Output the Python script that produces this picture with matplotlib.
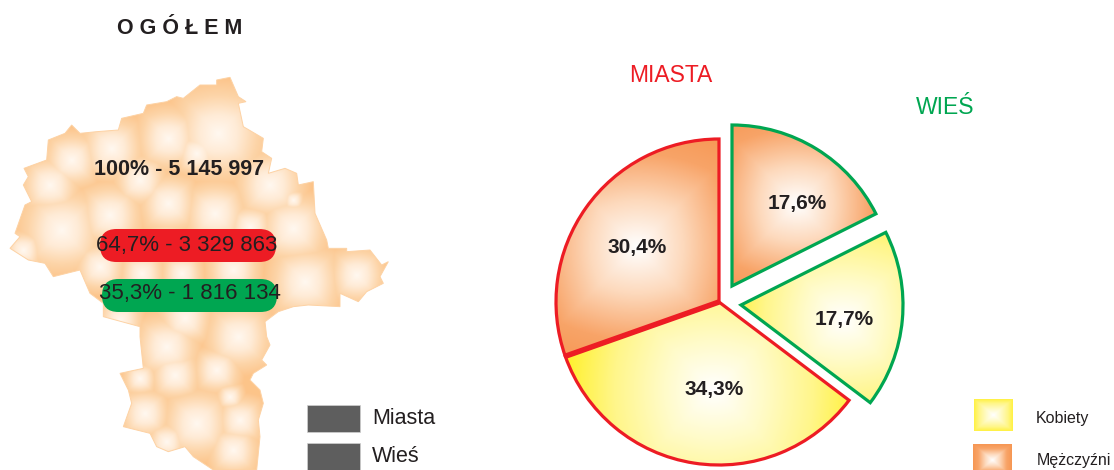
import numpy as np
import matplotlib
matplotlib.use("Agg")
import matplotlib.pyplot as plt
from matplotlib.colors import LinearSegmentedColormap
from matplotlib.patches import Wedge, Polygon, FancyBboxPatch, Rectangle

# ---------- data ----------
title = "O G Ó Ł E M"
map_labels = ["100% - 5 145 997", "64,7% - 3 329 863", "35,3% - 1 816 134"]
pie_values = [17.6, 17.7, 34.3, 30.4]
pie_labels = ["17,6%", "17,7%", "34,3%", "30,4%"]
pie_groups = ["WIEŚ", "WIEŚ", "MIASTA", "MIASTA"]
pie_kinds = ["m", "k", "k", "m"]
legend_left = ["Miasta", "Wieś"]
legend_right = ["Kobiety", "Mężczyźni"]

# ---------- layout / style ----------
W, H = 1114, 470
FONT = ["Liberation Sans", "DejaVu Sans"]
RED, GREEN, DARK = "#ED1C24", "#00A651", "#231F20"
plt.rcParams["font.family"] = FONT
px = 72 / 100

fig = plt.figure(figsize=(W / 100, H / 100), dpi=100)
ax = fig.add_axes([0, 0, 1, 1])
ax.set_xlim(0, W); ax.set_ylim(0, H); ax.axis("off")
Y = lambda y: H - y

orange_map = LinearSegmentedColormap.from_list("om", ["#FFF8F0", "#FFEBD6", "#FDD5A9", "#FCC48A"])
orange = LinearSegmentedColormap.from_list("o", ["#FFFFFF", "#FDD9BC", "#F8A468", "#F6924C"])
yellow = LinearSegmentedColormap.from_list("y", ["#FFFFFF", "#FFFBC8", "#FFF68A", "#FFF02A"])
cmaps = {"m": orange, "k": yellow}

# ---------- map (shape, zoomed coordinates) ----------
outline = [(650,30),(690,22),(715,80),(738,95),(715,100),(730,170),(790,205),(785,245),(815,265),(805,310),
 (855,295),(890,310),(895,345),(940,335),(945,430),(980,510),(985,535),(1040,535),(1040,545),(1110,540),
 (1145,585),(1165,575),(1140,620),(1150,640),(1100,665),(1075,695),(1020,670),(1020,710),(925,705),(880,710),
 (835,725),(795,755),(800,800),(810,825),(785,870),(800,885),(760,910),(750,930),(780,960),(790,1000),
 (775,1050),(780,1100),(770,1200),(640,1200),(580,1160),(555,1130),(505,1145),(470,1130),(450,1090),(370,1070),
 (395,1000),(385,960),(360,910),(430,895),(420,800),(420,770),(310,740),(310,700),(270,670),(240,600),
 (160,620),(135,580),(85,570),(30,535),(60,500),(45,490),(75,405),(95,395),(70,345),(85,320),
 (72,295),(140,270),(145,210),(195,190),(215,165),(240,190),(290,185),(355,180),(365,145),(430,130),
 (440,105),(500,95),(530,80),(550,85),(600,45),(650,45)]
region_centres = [(655,190,170),(505,205,115),(335,235,115),(215,270,100),(150,345,105),(185,480,150),(330,435,115),
 (505,400,105),(645,430,115),(810,345,125),(880,475,125),(915,635,130),(1070,615,100),(590,250,80),(420,330,95),
 (300,590,90),(425,610,80),(545,610,75),(700,600,95),(360,750,80),(555,745,95),(715,800,120),(500,830,115),
 (525,915,90),(650,900,85),(435,1030,90),(590,1060,125),(720,1050,85),(500,1115,70),(700,1140,90),(70,540,70),
 (750,470,80),(500,520,75),(420,925,60),(690,980,50),(880,390,40)]
poly_px = [(x / 3, 70 + y / 3) for x, y in outline]
gx, gy = np.meshgrid(np.arange(0, 400, 0.5), np.arange(70, 470, 0.5))
t = np.full(gx.shape, 9.0)
for cx, cy, r in region_centres:
    dx, dy = gx - cx / 3, gy - (70 + cy / 3)
    dist = np.hypot(dx, dy) * 0.6 + np.maximum(abs(dx), abs(dy)) * 0.4
    t = np.minimum(t, dist / (r / 3))
im = ax.imshow(np.clip(t, 0, 1)[::-1], cmap=orange_map, vmin=0, vmax=1, extent=(0, 400, Y(470), Y(70)),
               origin="lower", aspect="auto", zorder=1)
clip = Polygon([(x, Y(y)) for x, y in poly_px], closed=True, transform=ax.transData, fc="none", ec="none")
ax.add_patch(clip)
im.set_clip_path(clip)
ax.add_patch(Polygon([(x, Y(y)) for x, y in poly_px], closed=True, fc="none", ec="#FDD2A4", lw=0.7, zorder=2))

# ---------- title and pills ----------
ax.text(180, Y(28), title, fontsize=15.5, fontweight="bold", color=DARK, ha="center", va="center")
for (x0, x1, yc, col) in [(100, 276, 245.5, RED), (102, 277, 295.5, GREEN)]:
    h = 33
    ax.add_patch(FancyBboxPatch((x0 + h / 2, Y(yc + h / 2) + h / 2), x1 - x0 - h, 0,
                                boxstyle=f"round,pad={h/2},rounding_size={h/2}", fc=col, ec="none", zorder=3))
ax.text(179.5, Y(169.5), map_labels[0], fontsize=15.5, fontweight="bold", color=DARK, ha="center", va="center", zorder=5)
ax.text(186.5, Y(245), map_labels[1], fontsize=16, color=DARK, ha="center", va="center", zorder=5)
ax.text(190, Y(294), map_labels[2], fontsize=16, color=DARK, ha="center", va="center", zorder=5)

# ---------- pie ----------
def radial_fill(cmap, wedge, hot, reach):
    x0, x1 = hot[0] - 200, hot[0] + 200
    y0, y1 = hot[1] - 200, hot[1] + 200
    xx, yy = np.meshgrid(np.linspace(x0, x1, 800), np.linspace(y0, y1, 800))
    dx, dy = xx - hot[0], yy - hot[1]
    v = (np.hypot(dx, dy) * 0.55 + np.maximum(abs(dx), abs(dy)) * 0.45) / reach
    img = ax.imshow(np.clip(v, 0, 1), cmap=cmap, vmin=0, vmax=1, extent=(x0, x1, Y(y1), Y(y0)),
                    origin="upper", aspect="auto", zorder=3)
    img.set_clip_path(wedge)

centres = [(732, 286), (741, 305), (719, 302), (719, 302)]
radius = [161, 162, 163, 163]
label_xy = [(797, 204), (844, 320), (714, 390), (637, 247)]
reach = [112, 120, 150, 140]
edge = {"WIEŚ": GREEN, "MIASTA": RED}
start = 90.0
bounds = []
for v, lab, g, k, c, r, xy, re in zip(pie_values, pie_labels, pie_groups, pie_kinds, centres, radius, label_xy, reach):
    end = start - v * 3.6
    clipw = Wedge((c[0], Y(c[1])), r, end, start, fc="none", ec="none", transform=ax.transData)
    ax.add_patch(clipw)
    radial_fill(cmaps[k], clipw, xy, re)
    ax.add_patch(Wedge((c[0], Y(c[1])), r, end, start, fc="none", ec=edge[g], lw=3.2 * px, joinstyle="miter", zorder=4))
    ax.text(xy[0], Y(xy[1]), lab, fontsize=15, fontweight="bold", color=DARK, ha="center", va="center", zorder=5)
    bounds.append(end)
    start = end
# heavier divider between the two city slices
a = np.radians(bounds[2])
ax.plot([719, 719 + 163 * np.cos(a)], [Y(302), Y(302) + 163 * np.sin(a)], color=RED, lw=5.5 * px, zorder=4.5,
        solid_capstyle="butt")
ax.text(671, Y(76), "MIASTA", fontsize=16.5, color=RED, ha="center", va="center")
ax.text(945, Y(108), "WIEŚ", fontsize=16.5, color=GREEN, ha="center", va="center")

# ---------- legends ----------
for (y0, lab, ty) in [(405, legend_left[0], 419), (443, legend_left[1], 456)]:
    ax.add_patch(Rectangle((307, Y(y0 + 27)), 53, 27, fc="#5E5E5E", ec="#D0D0D0", lw=0.5))
    ax.text(372, Y(ty), lab, fontsize=15.5, color=DARK, ha="left", va="center")

def square(cmap, x0, y0, w, h):
    xx, yy = np.meshgrid(np.linspace(-1, 1, 80), np.linspace(-1, 1, 80))
    v = np.maximum(abs(xx), abs(yy))
    ax.imshow(v, cmap=cmap, vmin=0, vmax=1.1, extent=(x0, x0 + w, Y(y0 + h), Y(y0)), origin="upper",
              aspect="auto", zorder=3)

square(yellow, 974, 399, 39, 32)
square(orange, 973, 444, 39, 32)
ax.text(1036, Y(418), legend_right[0], fontsize=11.5, color=DARK, ha="left", va="center")
ax.text(1037, Y(460), legend_right[1], fontsize=11.5, color=DARK, ha="left", va="center")

ax.set_xlim(0, W); ax.set_ylim(0, H)
fig.savefig("out.png", dpi=100)
